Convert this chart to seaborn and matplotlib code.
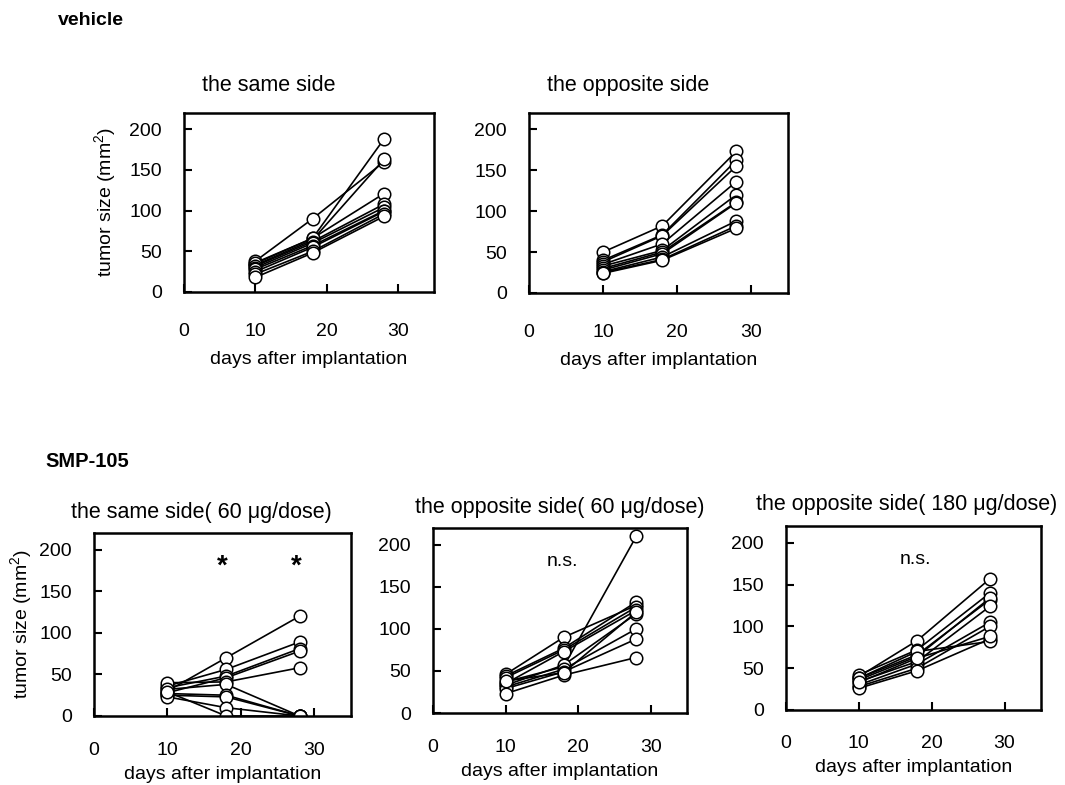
import matplotlib
matplotlib.use("Agg")
import matplotlib.pyplot as plt
import pandas as pd
import seaborn as sns

# Measurement days after implantation
days = [10, 18, 28]

# Tumor size (mm^2) per mouse at each day: [day10, day18, day28]
vehicle_same = [
    [38, 90, 160], [35, 66, 188], [33, 64, 163], [36, 66, 121], [32, 62, 108],
    [30, 60, 104], [28, 57, 100], [25, 55, 99], [22, 50, 96], [18, 48, 93],
]
vehicle_opposite = [
    [50, 82, 173], [40, 71, 162], [38, 70, 155], [35, 60, 136], [33, 52, 120],
    [30, 50, 111], [28, 48, 110], [26, 44, 88], [25, 41, 82], [24, 40, 79],
]
smp_same_60 = [
    [30, 70, 120], [36, 56, 89], [34, 48, 81], [28, 46, 78], [40, 41, 58],
    [32, 38, 0], [27, 25, 0], [25, 23, 0], [23, 10, 0], [29, 0, 0],
]
smp_opposite_60 = [
    [46, 90, 128], [44, 77, 132], [42, 75, 126], [37, 55, 210], [35, 73, 122],
    [33, 57, 118], [31, 52, 100], [29, 49, 88], [23, 45, 66], [38, 48, 120],
]
smp_opposite_180 = [
    [40, 83, 157], [42, 72, 140], [38, 66, 132], [36, 64, 134], [34, 58, 124],
    [30, 55, 105], [28, 50, 100], [26, 47, 85], [38, 70, 82], [33, 62, 88],
]

sns.set_style("ticks")
plt.rcParams["font.family"] = ["Liberation Sans", "DejaVu Sans"]
plt.rcParams["mathtext.fontset"] = "custom"
plt.rcParams["mathtext.rm"] = "Liberation Sans"
plt.rcParams["mathtext.it"] = "Liberation Sans:italic"
plt.rcParams["text.color"] = "black"
plt.rcParams["axes.labelcolor"] = "black"


def to_frame(values):
    rows = [(m, d, v) for m, series in enumerate(values) for d, v in zip(days, series)]
    return pd.DataFrame(rows, columns=["mouse", "day", "size"])


W, H = 1065, 785
fig = plt.figure(figsize=(W / 100, H / 100), dpi=100)


def rect(left, top, right, bottom):
    return [left / W, 1 - bottom / H, (right - left) / W, (bottom - top) / H]


panels = [
    dict(values=vehicle_same, box=(184, 113, 434, 292), ylabel=118, xlab=-0.33, xpad=22,
         title="the same side", tx=202, ty=91),
    dict(values=vehicle_opposite, box=(529, 113, 788, 293), ylabel=None, xlab=-0.33, xpad=22,
         title="the opposite side", tx=547, ty=91),
    dict(values=smp_same_60, box=(94, 533, 351, 716), ylabel=34, xlab=-0.275, xpad=19,
         title="the same side( 60 \u03bcg/dose)", tx=71, ty=518, mark="*"),
    dict(values=smp_opposite_60, box=(433, 528, 687, 713), ylabel=None, xlab=-0.27, xpad=19,
         title="the opposite side( 60 \u03bcg/dose)", tx=415, ty=513, mark="n.s."),
    dict(values=smp_opposite_180, box=(786, 526, 1041, 710), ylabel=None, xlab=-0.265, xpad=18,
         title="the opposite side( 180 \u03bcg/dose)", tx=756, ty=510, mark="n.s."),
]

for p in panels:
    ax = fig.add_axes(rect(*p["box"]))
    sns.lineplot(
        data=to_frame(p["values"]), x="day", y="size", units="mouse",
        estimator=None, color="black", linewidth=1.2, marker="o",
        markersize=9, markerfacecolor="white", markeredgecolor="black",
        markeredgewidth=1.1, legend=False, ax=ax,
    )
    ax.set_xlim(0, 35)
    ax.set_ylim(0, 220)
    ax.set_xticks([0, 10, 20, 30])
    ax.set_yticks([0, 50, 100, 150, 200])
    for s in ax.spines.values():
        s.set_visible(True)
        s.set_linewidth(1.8)
        s.set_color("black")
    ax.tick_params(axis="both", direction="in", length=6, width=1.5,
                   labelsize=14, colors="black")
    ax.tick_params(axis="x", pad=p["xpad"])
    ax.tick_params(axis="y", pad=16)
    ax.set_xlabel("days after implantation", fontsize=14)
    ax.xaxis.set_label_coords(0.5, p["xlab"])
    if p["ylabel"] is not None:
        ax.set_ylabel("tumor size (mm$^2$)", fontsize=14)
        x0, x1 = p["box"][0], p["box"][2]
        ax.yaxis.set_label_coords((p["ylabel"] - x0) / (x1 - x0), 0.5)
    else:
        ax.set_ylabel("")
    mark = p.get("mark")
    if mark == "*":
        for d in (17.5, 27.5):
            ax.text(d, 180, "*", ha="center", va="center", fontsize=20, fontweight="bold")
    elif mark:
        ax.text(17.8, 180, mark, ha="center", va="center", fontsize=14)
    fig.text(p["tx"] / W, 1 - p["ty"] / H, p["title"], ha="left", va="baseline", fontsize=15.5)

fig.text(58 / W, 1 - 25 / H, "vehicle", ha="left", va="baseline", fontsize=14, fontweight="bold")
fig.text(45 / W, 1 - 467 / H, "SMP-105", ha="left", va="baseline", fontsize=14.5, fontweight="bold")

fig.savefig("out.png", dpi=100, facecolor="white")
